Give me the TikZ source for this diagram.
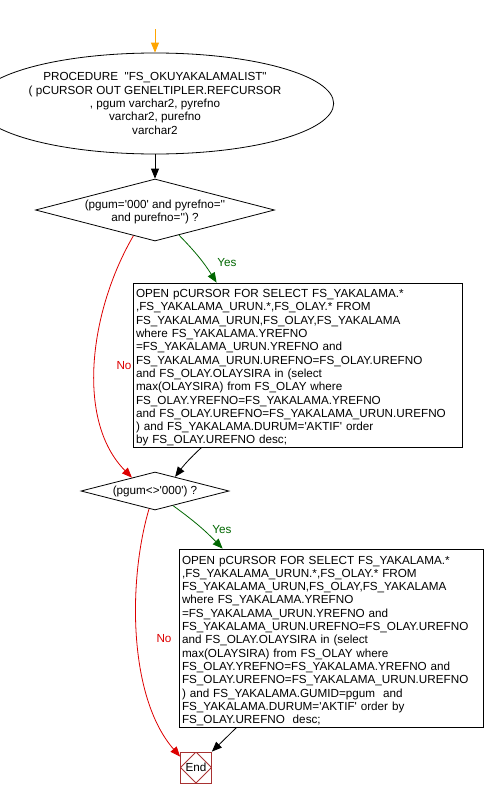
\documentclass[tikz,border=0pt]{standalone}
\usepackage{fontspec}
\setmainfont{Liberation Sans}[Ligatures=TeXOff]
\usetikzlibrary{shapes.geometric,arrows.meta,calc}
\definecolor{flowred}{HTML}{DD0000}
\definecolor{flowgreen}{HTML}{006600}
\definecolor{floworange}{HTML}{FFA500}
\definecolor{endred}{HTML}{A83232}

\begin{document}
\begin{tikzpicture}[x=1pt,y=1pt,
  every node/.style={font=\fontsize{11.7}{13.3}\selectfont, line width=0.8pt},
  startend/.style={ellipse, draw, minimum width=299pt, minimum height=101pt,
    inner sep=0pt, align=center},
  decision/.style={diamond, draw, inner sep=-4pt, align=center},
  process/.style={rectangle, draw, inner xsep=3pt, inner ysep=0pt, align=left},
  finish/.style={rectangle, draw=endred, minimum size=31pt, inner sep=0pt,
    path picture={\draw[endred, line width=0.8pt]
      (path picture bounding box.north) -- (path picture bounding box.east) --
      (path picture bounding box.south) -- (path picture bounding box.west) -- cycle;}},
  flow/.style={line width=0.8pt, -{Triangle[length=10pt,width=8pt]}},
  yesflow/.style={flow, flowgreen},
  noflow/.style={flow, flowred},
  lbl/.style={inner sep=1pt}
]
\useasboundingbox (0,0) rectangle (485,-798);

% entry point and procedure header
\coordinate (s0) at (155,-29);
\node[startend] (e) at (155,-103.5)
  {PROCEDURE\ \ "FS\_OKUYAKALAMALIST"\\
   ( pCURSOR OUT GENELTIPLER.REFCURSOR\\
   , pgum varchar2, pyrefno\\
   varchar2, purefno\\
   varchar2};

% first test
\node[decision, aspect=3.85, minimum width=239pt, minimum height=62pt] (d1) at (155,-210)
  {\rule{0pt}{13pt}(pgum='000' and pyrefno=''\\ and purefno='') ?};

\node[process, text width=323pt, minimum height=164pt] (b1) at (297.5,-365)
  {\rule{0pt}{14pt}OPEN pCURSOR FOR SELECT FS\_YAKALAMA.*\\
   ,FS\_YAKALAMA\_URUN.*,FS\_OLAY.* FROM\\
   FS\_YAKALAMA\_URUN,FS\_OLAY,FS\_YAKALAMA\\
   where FS\_YAKALAMA.YREFNO\\
   =FS\_YAKALAMA\_URUN.YREFNO and\\
   FS\_YAKALAMA\_URUN.UREFNO=FS\_OLAY.UREFNO\\
   and FS\_OLAY.OLAYSIRA in (select\\
   max(OLAYSIRA) from FS\_OLAY where\\
   FS\_OLAY.YREFNO=FS\_YAKALAMA.YREFNO\\
   and FS\_OLAY.UREFNO=FS\_YAKALAMA\_URUN.UREFNO\\
   ) and FS\_YAKALAMA.DURUM='AKTIF' order\\
   by FS\_OLAY.UREFNO desc;};

% second test
\node[decision, aspect=3.9, minimum width=148pt, minimum height=38pt] (d2) at (155,-491)
  {(pgum<>'000') ?};

\node[process, text width=298pt, minimum height=178pt] (b2) at (331,-638)
  {\rule{0pt}{14pt}OPEN pCURSOR FOR SELECT FS\_YAKALAMA.*\\
   ,FS\_YAKALAMA\_URUN.*,FS\_OLAY.* FROM\\
   FS\_YAKALAMA\_URUN,FS\_OLAY,FS\_YAKALAMA\\
   where FS\_YAKALAMA.YREFNO\\
   =FS\_YAKALAMA\_URUN.YREFNO and\\
   FS\_YAKALAMA\_URUN.UREFNO=FS\_OLAY.UREFNO\\
   and FS\_OLAY.OLAYSIRA in (select\\
   max(OLAYSIRA) from FS\_OLAY where\\
   FS\_OLAY.YREFNO=FS\_YAKALAMA.YREFNO and\\
   FS\_OLAY.UREFNO=FS\_YAKALAMA\_URUN.UREFNO\\
   ) and FS\_YAKALAMA.GUMID=pgum\ \ and\\
   FS\_YAKALAMA.DURUM='AKTIF' order by\\
   FS\_OLAY.UREFNO\ \ desc;};

\node[finish] (fin) at (196,-767.5) {End};

% connectors
\draw[flow, floworange] (s0) -- (e.north);
\draw[flow] (e.south) -- (d1.north);
\draw[yesflow] ($(d1.south)!0.2!(d1.east)$) to[bend left=6] ([xshift=84pt]b1.north west);
\draw[noflow] ($(d1.south)!0.18!(d1.west)$) .. controls (90,-310) and (75,-420) .. ($(d2.north)!0.31!(d2.west)$);
\draw[flow] ([xshift=69pt]b1.south west) to[bend right=5] ($(d2.north)!0.27!(d2.east)$);
\draw[yesflow] ($(d2.south)!0.243!(d2.east)$) to[bend left=5] ([xshift=44pt]b2.north west);
\draw[noflow] ($(d2.south)!0.08!(d2.west)$) .. controls (128,-580) and (128,-697) .. ([yshift=-5pt]fin.north west);
\draw[flow] ([xshift=58pt]b2.south west) -- (fin.north east);

% branch labels
\node[lbl, text=flowgreen] (y1) at (227,-263) {Yes};
\node[lbl, text=flowred] (n1) at (124,-366) {No};
\node[lbl, text=flowgreen] (y2) at (222,-530) {Yes};
\node[lbl, text=flowred] (n2) at (164,-639) {No};
\end{tikzpicture}
\end{document}
